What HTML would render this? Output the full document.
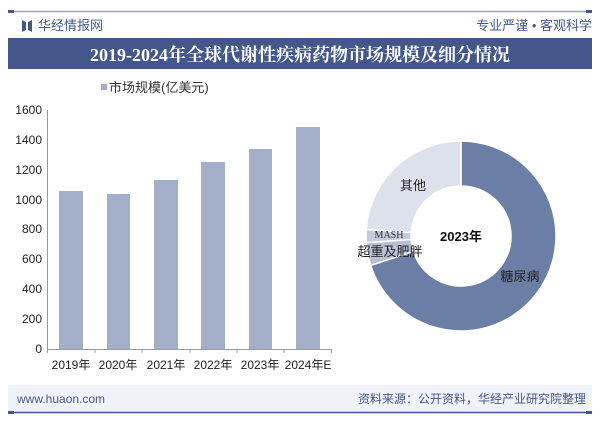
<!DOCTYPE html>
<html><head><meta charset="utf-8"><style>
body{margin:0;background:#fff;}
svg{display:block;font-family:"Liberation Sans","Noto Sans CJK SC",sans-serif;}
</style></head><body>
<svg width="600" height="421" viewBox="0 0 600 421">
<rect width="600" height="421" fill="#fff"/>
<line x1="8" y1="11.5" x2="592" y2="11.5" stroke="#9aa3bd" stroke-width="1.5"/>
<rect x="8" y="10" width="6" height="3" fill="#44578a"/>
<rect x="586" y="10" width="6" height="3" fill="#44578a"/>
<path d="M22 20 L26 22 L26 30 L22 32 Z M28 22 L32 20 L32 32 L28 30 Z" fill="#44578a"/>
<text x="38" y="30" font-size="13" fill="#44578a">华经情报网</text>
<text x="592" y="30" font-size="13" fill="#44578a" text-anchor="end">专业严谨 • 客观科学</text>
<rect x="8" y="38" width="584" height="31" fill="#44578a"/>
<text x="300" y="61" font-size="18" font-weight="bold" fill="#fff" text-anchor="middle" font-family="Liberation Serif,'Noto Serif CJK SC',serif">2019-2024年全球代谢性疾病药物市场规模及细分情况</text>
<rect x="101" y="84" width="6" height="6" fill="#a3aec8"/>
<text x="109" y="92" font-size="13" fill="#333">市场规模(亿美元)</text>
<g font-size="12" fill="#222" text-anchor="end">
<text x="42" y="114">1600</text><text x="42" y="144">1400</text><text x="42" y="174">1200</text><text x="42" y="204">1000</text><text x="42" y="233">800</text><text x="42" y="263">600</text><text x="42" y="293">400</text><text x="42" y="323">200</text><text x="42" y="353">0</text>
</g>
<line x1="47.5" y1="110" x2="47.5" y2="349" stroke="#999"/>
<line x1="47" y1="349.5" x2="332" y2="349.5" stroke="#999"/>
<g stroke="#999">
<line x1="47.5" y1="349" x2="47.5" y2="353"/><line x1="95" y1="349" x2="95" y2="353"/><line x1="142" y1="349" x2="142" y2="353"/><line x1="190" y1="349" x2="190" y2="353"/><line x1="237" y1="349" x2="237" y2="353"/><line x1="284" y1="349" x2="284" y2="353"/><line x1="331.5" y1="349" x2="331.5" y2="353"/>
</g>
<g fill="#a3aec8">
<rect x="59" y="191" width="24" height="158"/>
<rect x="107" y="194" width="23" height="155"/>
<rect x="154" y="180" width="24" height="169"/>
<rect x="201" y="162" width="24" height="187"/>
<rect x="249" y="149" width="23" height="200"/>
<rect x="296" y="127" width="24" height="222"/>
</g>
<g font-size="12" fill="#222" text-anchor="middle">
<text x="71" y="369">2019年</text><text x="118" y="369">2020年</text><text x="166" y="369">2021年</text><text x="213" y="369">2022年</text><text x="260" y="369">2023年</text><text x="308" y="369">2024年E</text>
</g>
<g stroke="#fff" stroke-width="1.5">
<path d="M461 141 A95 95 0 1 1 370.65 265.36 L413.45 251.45 A50 50 0 1 0 461 186 Z" fill="#6a7ea6"/>
<path d="M370.65 265.36 A95 95 0 0 1 366.23 242.63 L411.12 239.49 A50 50 0 0 0 413.45 251.45 Z" fill="#b8bfd3"/>
<path d="M366.23 242.63 A95 95 0 0 1 366.23 229.37 L411.12 232.51 A50 50 0 0 0 411.12 239.49 Z" fill="#c6cbdb"/>
<path d="M366.23 229.37 A95 95 0 0 1 461 141 L461 186 A50 50 0 0 0 411.12 232.51 Z" fill="#dde1ec"/>
</g>
<text x="461" y="241" font-size="13" font-weight="bold" fill="#111" text-anchor="middle">2023年</text>
<text x="413" y="190" font-size="13" fill="#222" text-anchor="middle">其他</text>
<text x="389" y="238" font-size="10" fill="#333" text-anchor="middle" font-family="Liberation Serif,serif">MASH</text>
<text x="390" y="256" font-size="13" fill="#222" text-anchor="middle">超重及肥胖</text>
<text x="520" y="281" font-size="13" fill="#222" text-anchor="middle">糖尿病</text>
<rect x="8" y="385" width="584" height="27" fill="#f0f2f8"/>
<text x="17" y="403" font-size="12" fill="#44578a">www.huaon.com</text>
<text x="586" y="403" font-size="12" fill="#44578a" text-anchor="end">资料来源：公开资料，华经产业研究院整理</text>
<line x1="8" y1="412.5" x2="592" y2="412.5" stroke="#44578a" stroke-width="1.5"/>
<rect x="8" y="411" width="6" height="3" fill="#44578a"/>
<rect x="586" y="411" width="6" height="3" fill="#44578a"/>
</svg>
</body></html>
